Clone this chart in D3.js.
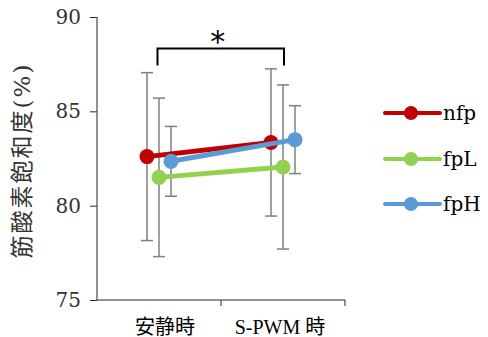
<!DOCTYPE html>
<html><head><meta charset="utf-8">
<script src="https://cdn.jsdelivr.net/npm/d3@7"></script>
<style>
html,body{margin:0;padding:0;background:#fff;}
svg{display:block;}
</style></head>
<body>
<script>
const categories = ["安静時", "S-PWM 時"];
const seriesNames = ["nfp", "fpL", "fpH"];
const seriesColors = ["#C00000", "#92D050", "#5B9BD5"];
const nfpMean = [82.6, 83.35];
const nfpSD = [4.45, 3.9];
const fpLMean = [81.5, 82.05];
const fpLSD = [4.2, 4.35];
const fpHMean = [82.35, 83.5];
const fpHSD = [1.85, 1.8];
const yTicks = [75, 80, 85, 90];
const yLabel = "筋酸素飽和度(%)";
const sigLabel = "*";

const means = [nfpMean, fpLMean, fpHMean];
const sds = [nfpSD, fpLSD, fpHSD];

const W = 488, H = 337;
const svg = d3.select("body").append("svg").attr("width", W).attr("height", H);

const x = d3.scaleBand().domain(categories).range([97, 345]).padding(0);
const off = d3.scalePoint().domain(seriesNames).range([-12, 12]);
const y = d3.scaleLinear().domain([75, 90]).range([300, 17]);

const axisColor = "#262626";
const textColor = "#333333";

// Y axis
const yAxis = svg.append("g").attr("transform", "translate(97,0)")
  .call(d3.axisLeft(y).tickValues(yTicks).tickSize(7).tickPadding(9).tickFormat(d3.format("d")));
yAxis.select(".domain").attr("stroke", axisColor).attr("d", `M0,${y(90)}V${y(75)}`);
yAxis.selectAll(".tick line").attr("stroke", axisColor);
yAxis.selectAll(".tick text").attr("fill", textColor)
  .style("font-family", "'DejaVu Serif', serif").style("font-size", "20px");

// X axis
const xAxis = svg.append("g").attr("transform", "translate(0,300)");
xAxis.append("line").attr("x1", 97).attr("x2", 345).attr("y1", 0).attr("y2", 0).attr("stroke", axisColor);
categories.forEach(c => {
  xAxis.append("line").attr("x1", x(c) + x.bandwidth()).attr("x2", x(c) + x.bandwidth())
    .attr("y1", 0).attr("y2", 6).attr("stroke", axisColor);
});
xAxis.selectAll("text.cat").data(categories).enter().append("text")
  .attr("class", "cat")
  .attr("x", d => x(d) + x.bandwidth() / 2 + (d === categories[0] ? 6 : -3))
  .attr("y", 34)
  .attr("text-anchor", "middle")
  .attr("fill", "#000")
  .style("font-family", "'Liberation Serif', 'Noto Sans CJK JP', serif")
  .style("font-size", "20px")
  .text(d => d);

// Y label
svg.append("text")
  .attr("transform", `translate(30,${(58 + 263) / 2}) rotate(-90)`)
  .attr("text-anchor", "middle")
  .attr("fill", textColor)
  .style("font-family", "'DejaVu Serif', 'Noto Sans CJK JP', serif")
  .style("font-size", "23px")
  .style("letter-spacing", "2px")
  .text(yLabel);

// Error bars
const cap = 6;
seriesNames.forEach((s, i) => {
  categories.forEach((c, j) => {
    const cx = x(c) + x.bandwidth() / 2 + off(s);
    const m = means[i][j], sd = sds[i][j];
    const g = svg.append("g").attr("stroke", "#7f7f7f").attr("stroke-width", 1.5);
    g.append("line").attr("x1", cx).attr("x2", cx).attr("y1", y(m + sd)).attr("y2", y(m - sd));
    g.append("line").attr("x1", cx - cap).attr("x2", cx + cap).attr("y1", y(m + sd)).attr("y2", y(m + sd));
    g.append("line").attr("x1", cx - cap).attr("x2", cx + cap).attr("y1", y(m - sd)).attr("y2", y(m - sd));
  });
});

// Lines and markers
const line = d3.line().x(d => d[0]).y(d => d[1]);
seriesNames.forEach((s, i) => {
  const pts = categories.map((c, j) => [x(c) + x.bandwidth() / 2 + off(s), y(means[i][j])]);
  svg.append("path").attr("d", line(pts)).attr("fill", "none")
    .attr("stroke", seriesColors[i]).attr("stroke-width", 5).attr("stroke-linecap", "round");
  svg.selectAll(null).data(pts).enter().append("circle")
    .attr("cx", d => d[0]).attr("cy", d => d[1]).attr("r", 7.5).attr("fill", seriesColors[i]);
});

// Significance bracket
const bx1 = x(categories[0]) + x.bandwidth() / 2 - 1.5;
const bx2 = x(categories[1]) + x.bandwidth() / 2 + 1;
svg.append("path")
  .attr("d", `M${bx1},65.5V48.5H${bx2}V65.5`)
  .attr("fill", "none").attr("stroke", "#000").attr("stroke-width", 2);
svg.append("text").attr("x", (bx1 + bx2) / 2 - 3).attr("y", 52)
  .attr("text-anchor", "middle").attr("fill", "#000")
  .style("font-family", "'DejaVu Sans', sans-serif").style("font-size", "30px")
  .text(sigLabel);

// Legend
const legY = [113, 159, 204];
seriesNames.forEach((s, i) => {
  const g = svg.append("g").attr("transform", `translate(0,${legY[i]})`);
  g.append("line").attr("x1", 385).attr("x2", 440).attr("y1", 0).attr("y2", 0)
    .attr("stroke", seriesColors[i]).attr("stroke-width", 4).attr("stroke-linecap", "round");
  g.append("circle").attr("cx", 411).attr("cy", 0).attr("r", 7).attr("fill", seriesColors[i]);
  g.append("text").attr("x", 443).attr("y", 0).attr("dy", "0.35em")
    .attr("fill", "#000")
    .style("font-family", "'DejaVu Serif', serif").style("font-size", "20px")
    .text(s);
});
</script>
</body></html>
